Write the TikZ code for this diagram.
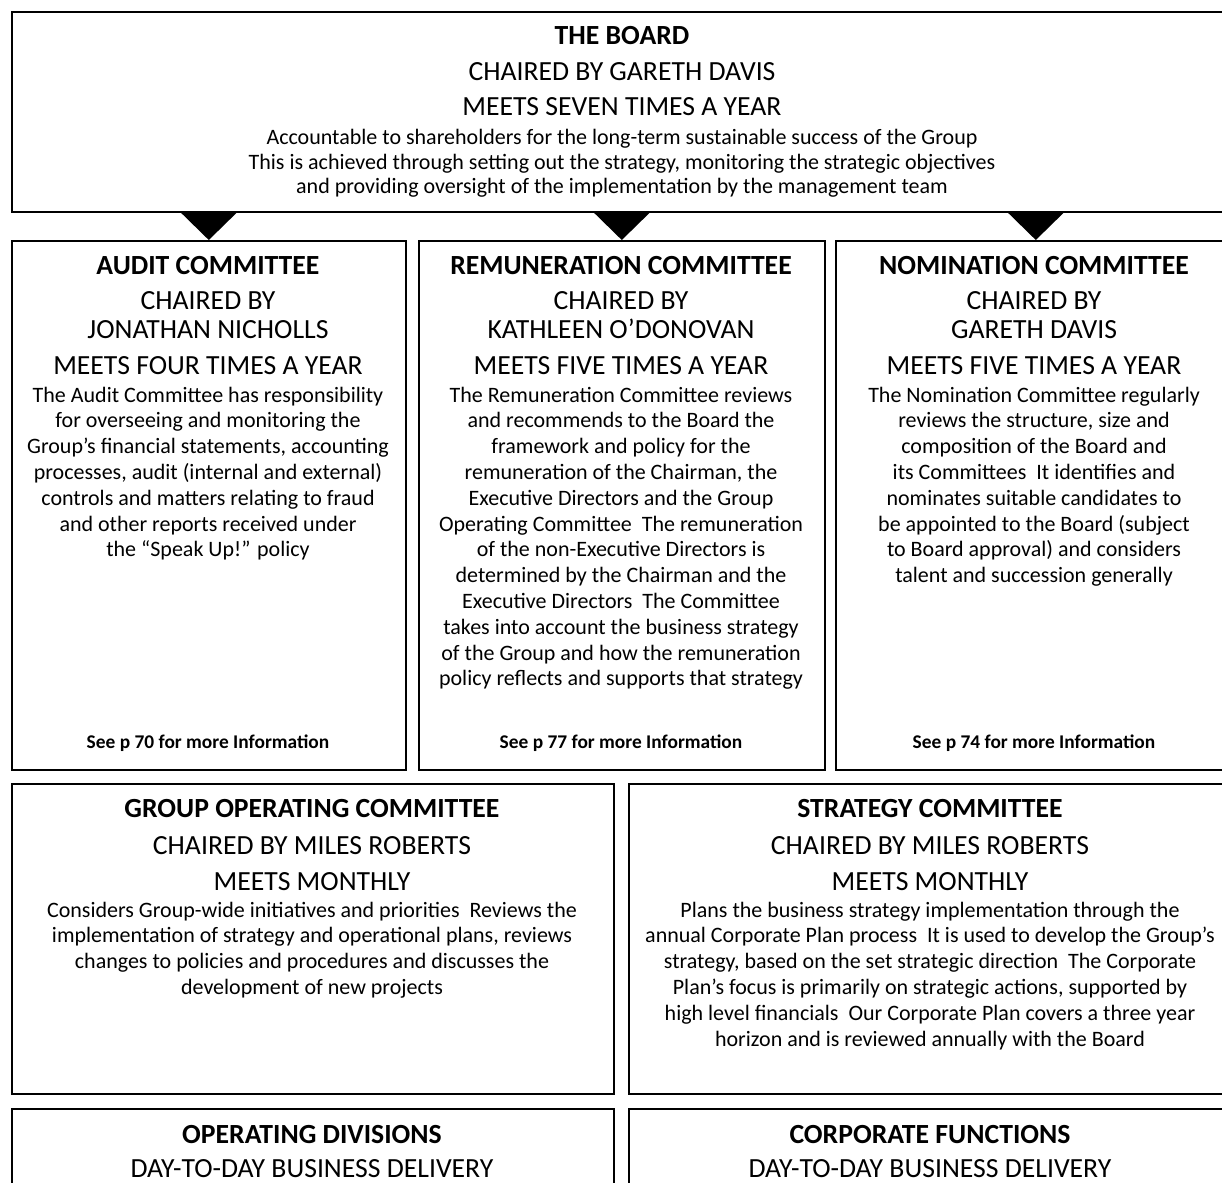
\documentclass[tikz,border=0pt]{standalone}
\usepackage{fontspec}
\setmainfont{Carlito}
\usetikzlibrary{positioning}

\tikzset{
  box/.style={draw, line width=1.6pt, inner sep=0pt, anchor=north west},
  headtxt/.style={font=\fontsize{27.7}{30}\selectfont\bfseries, anchor=base, inner sep=0pt},
  capstxt/.style={font=\fontsize{27.7}{30}\selectfont, anchor=base, inner sep=0pt},
  bodytxt/.style={font=\fontsize{22}{26}\selectfont, anchor=base, inner sep=0pt},
  seetxt/.style={font=\fontsize{19.4}{22}\selectfont\bfseries, anchor=base, inner sep=0pt}
}

\begin{document}
\begin{tikzpicture}[x=1pt, y=-1pt]
    \useasboundingbox (0,0) rectangle (1222,1182);

    %boxes
    \node[box, minimum width=1222pt, minimum height=200pt] (board) at (11,11) {};
    \node[box, minimum width=394pt, minimum height=529pt] (audit) at (11,240) {};
    \node[box, minimum width=406pt, minimum height=529pt] (remun) at (418,240) {};
    \node[box, minimum width=400pt, minimum height=529pt] (nomin) at (835,240) {};
    \node[box, minimum width=602pt, minimum height=310pt] (groupop) at (11,783) {};
    \node[box, minimum width=606pt, minimum height=310pt] (strat) at (628,783) {};
    \node[box, minimum width=602pt, minimum height=100pt] (opdiv) at (11,1108) {};
    \node[box, minimum width=606pt, minimum height=100pt] (corpfn) at (628,1108) {};

    % black wedges from the board down to each committee
    \foreach \n in {audit, remun, nomin} {
        \fill ([xshift=-28pt]\n.north |- board.south) -- ([xshift=28pt]\n.north |- board.south) -- (\n.north) -- cycle;
    }

    %the board
    \node[headtxt] (board-title) at (622,45) {THE BOARD};
    \node[capstxt] (board-chair) at (622,81) {CHAIRED BY GARETH DAVIS};
    \node[capstxt] (board-meets) at (622,116) {MEETS SEVEN TIMES A YEAR};
    \foreach \t [count=\i] in {Accountable to shareholders for the long-term sustainable success of the Group,
        {This is achieved through setting out the strategy, monitoring the strategic objectives},
        and providing oversight of the implementation by the management team}
        \node[bodytxt] (board-\i) at (622,145+24.5*\i-24.5) {\t};

    %committees
    \foreach \n/\x/\t/\c/\m/\p in {audit/208/AUDIT COMMITTEE/JONATHAN NICHOLLS/FOUR/70,
        remun/621/REMUNERATION COMMITTEE/KATHLEEN O’DONOVAN/FIVE/77,
        nomin/1034/NOMINATION COMMITTEE/GARETH DAVIS/FIVE/74} {
        \node[headtxt] (\n-title) at (\x,274) {\t};
        \node[capstxt] (\n-chair) at (\x,309) {CHAIRED BY};
        \node[capstxt] (\n-name) at (\x,338) {\c};
        \node[capstxt] (\n-meets) at (\x,374) {MEETS \m\ TIMES A YEAR};
        \node[seetxt] (\n-see) at (\x,748) {See p \p\ for more Information};
    }
    \foreach \t [count=\i] in {The Audit Committee has responsibility,
        for overseeing and monitoring the,
        {Group’s financial statements, accounting},
        {processes, audit (internal and external)},
        controls and matters relating to fraud,
        and other reports received under,
        the “Speak Up!” policy}
        \node[bodytxt] (audit-\i) at (208,402+25.8*\i-25.8) {\t};
    \foreach \t [count=\i] in {The Remuneration Committee reviews,
        and recommends to the Board the,
        framework and policy for the,
        {remuneration of the Chairman, the},
        Executive Directors and the Group,
        Operating Committee~ The remuneration,
        of the non-Executive Directors is,
        determined by the Chairman and the,
        Executive Directors~ The Committee,
        takes into account the business strategy,
        of the Group and how the remuneration,
        policy reflects and supports that strategy}
        \node[bodytxt] (remun-\i) at (621,402+25.8*\i-25.8) {\t};
    \foreach \t [count=\i] in {The Nomination Committee regularly,
        {reviews the structure, size and},
        composition of the Board and,
        its Committees~ It identifies and,
        nominates suitable candidates to,
        be appointed to the Board (subject,
        to Board approval) and considers,
        talent and succession generally}
        \node[bodytxt] (nomin-\i) at (1034,402+25.8*\i-25.8) {\t};

    %operating and strategy committees
    \node[headtxt] (groupop-title) at (312,817) {GROUP OPERATING COMMITTEE};
    \node[capstxt] (groupop-chair) at (312,854) {CHAIRED BY MILES ROBERTS};
    \node[capstxt] (groupop-meets) at (312,890) {MEETS MONTHLY};
    \foreach \t [count=\i] in {Considers Group-wide initiatives and priorities~ Reviews the,
        {implementation of strategy and operational plans, reviews},
        changes to policies and procedures and discusses the,
        development of new projects}
        \node[bodytxt] (groupop-\i) at (312,917+25.8*\i-25.8) {\t};

    \node[headtxt] (strat-title) at (930,817) {STRATEGY COMMITTEE};
    \node[capstxt] (strat-chair) at (930,854) {CHAIRED BY MILES ROBERTS};
    \node[capstxt] (strat-meets) at (930,890) {MEETS MONTHLY};
    \foreach \t [count=\i] in {Plans the business strategy implementation through the,
        annual Corporate Plan process~ It is used to develop the Group’s,
        {strategy, based on the set strategic direction~ The Corporate},
        {Plan’s focus is primarily on strategic actions, supported by},
        high level financials~ Our Corporate Plan covers a three year,
        horizon and is reviewed annually with the Board}
        \node[bodytxt] (strat-\i) at (930,917+25.8*\i-25.8) {\t};

    %day-to-day delivery
    \node[headtxt] (opdiv-title) at (312,1143) {OPERATING DIVISIONS};
    \node[capstxt] (opdiv-sub) at (312,1177) {DAY-TO-DAY BUSINESS DELIVERY};
    \node[headtxt] (corpfn-title) at (930,1143) {CORPORATE FUNCTIONS};
    \node[capstxt] (corpfn-sub) at (930,1177) {DAY-TO-DAY BUSINESS DELIVERY};
\end{tikzpicture}
\end{document}
